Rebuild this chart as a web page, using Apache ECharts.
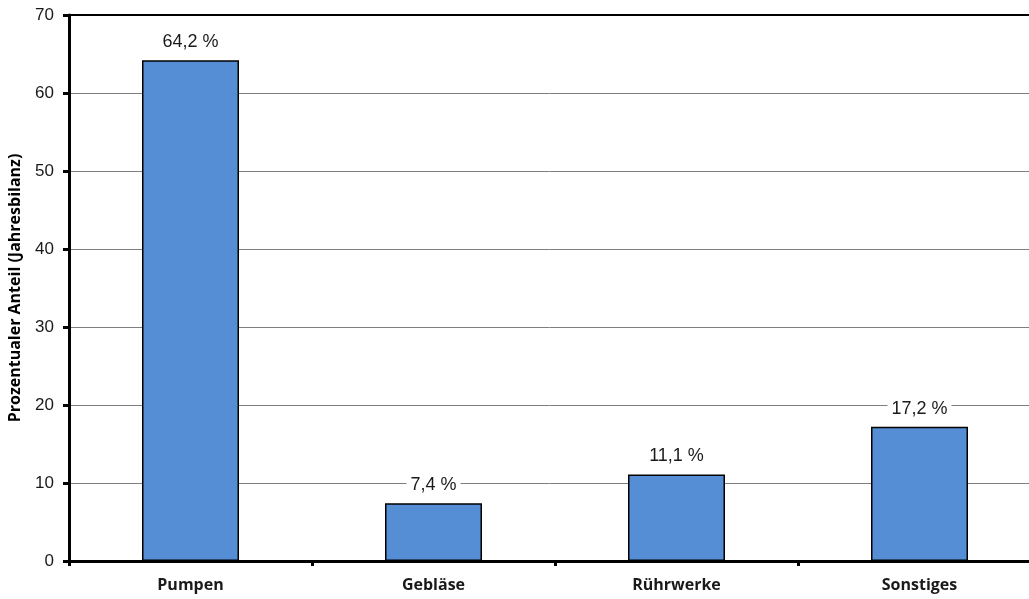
<!DOCTYPE html>
<html>
<head>
<meta charset="utf-8">
<script src="https://cdn.jsdelivr.net/npm/echarts@6/dist/echarts.min.js"></script>
<style>
  html, body { margin: 0; padding: 0; background: #fff; }
  #chart { width: 1029px; height: 599px; }
</style>
</head>
<body>
<div id="chart"></div>
<script>
// Energy use share by consumer group (annual balance, percent)
const categories = ['Pumpen', 'Gebläse', 'Rührwerke', 'Sonstiges'];
const shares = [64.2, 7.4, 11.1, 17.2];
const yTicks = { min: 0, max: 70, interval: 10 };
const yAxisTitle = 'Prozentualer Anteil (Jahresbilanz)';

const chart = echarts.init(document.getElementById('chart'), null, { renderer: 'canvas' });

chart.setOption({
  backgroundColor: '#ffffff',
  animation: false,
  grid: {
    left: 69, top: 15, width: 972, height: 546,
    containLabel: false,
    outerBoundsMode: 'none'
  },
  xAxis: [
    {
      type: 'category',
      data: categories,
      boundaryGap: true,
      axisLine: { show: true, lineStyle: { color: '#000', width: 3 } },
      axisTick: { show: true, alignWithLabel: false, length: 5, lineStyle: { color: '#000', width: 3 } },
      axisLabel: {
        color: '#1a1a1a', fontFamily: 'Open Sans', fontWeight: 'bold', fontSize: 16, margin: 16
      },
      splitLine: { show: false }
    },
    {
      // closing frame line along the top of the plot
      type: 'category',
      position: 'top',
      data: categories,
      axisLine: { show: true, lineStyle: { color: '#000', width: 2 } },
      axisTick: { show: false },
      axisLabel: { show: false }
    }
  ],
  yAxis: {
    type: 'value',
    min: yTicks.min,
    max: yTicks.max,
    interval: yTicks.interval,
    name: yAxisTitle,
    nameLocation: 'middle',
    nameRotate: 90,
    nameGap: 46,
    nameTextStyle: { color: '#000', fontFamily: 'Open Sans', fontWeight: 'bold', fontSize: 16 },
    axisLine: { show: true, lineStyle: { color: '#000', width: 3 } },
    axisTick: { show: true, length: 6, lineStyle: { color: '#000', width: 3 } },
    axisLabel: { color: '#1a1a1a', fontFamily: 'Liberation Sans', fontSize: 17, margin: 15 },
    splitLine: { show: true, lineStyle: { color: '#7f7f7f', width: 1 } }
  },
  series: [{
    type: 'bar',
    data: shares,
    barWidth: 97,
    itemStyle: { color: '#558ed5', borderColor: '#000', borderWidth: 1.5 },
    label: {
      show: true,
      position: 'top',
      distance: 6,
      color: '#1a1a1a',
      fontFamily: 'Liberation Sans',
      fontSize: 18,
      backgroundColor: '#fff',
      padding: [3, 4, 3, 4],
      formatter: p => p.value.toFixed(1).replace('.', ',') + ' %'
    }
  }]
});
</script>
</body>
</html>
